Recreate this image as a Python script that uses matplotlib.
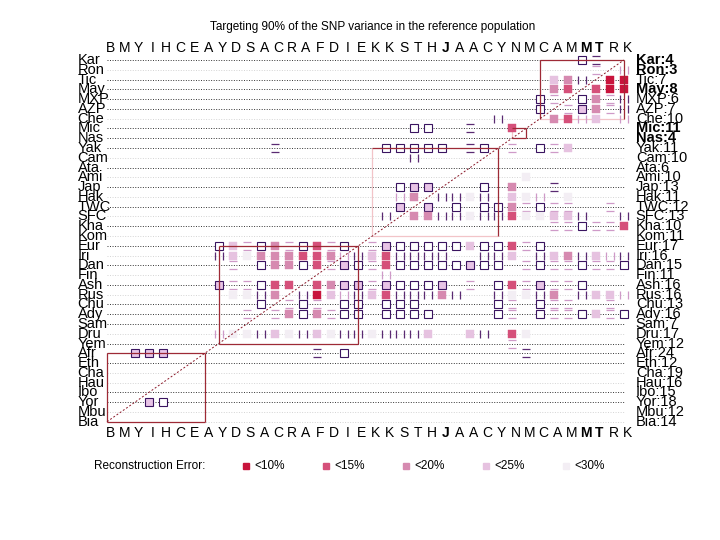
import matplotlib
matplotlib.use("Agg")
import matplotlib.pyplot as plt
from matplotlib.path import Path
from matplotlib.lines import Line2D

plt.rcParams['font.family'] = ['Liberation Sans', 'DejaVu Sans']

# populations, top to bottom
rows = ["Kar", "Ron", "Tic", "May", "MXP", "AZP", "Che", "Mic", "Nas", "Yak",
        "Cam", "Ata", "Ami", "Jap", "Hak", "TWC", "SFC", "Kha", "Kom", "Eur",
        "Iri", "Dan", "Fin", "Ash", "Rus", "Chu", "Ady", "Sam", "Dru", "Yem",
        "Afr", "Eth", "Cha", "Hau", "Ibo", "Yor", "Mbu", "Bia"]
counts = [4, 3, 7, 8, 6, 7, 10, 11, 4, 11, 10, 6, 10, 13, 11, 12, 13, 10, 11, 17,
          16, 15, 11, 16, 16, 13, 16, 7, 17, 12, 24, 12, 19, 16, 15, 18, 12, 14]
bold_rows = ["Kar", "Ron", "May", "Mic", "Nas"]
col_labels = list("BMYIHCEAYDSACRAFDIEKKSTHJAACYNMCAMMTRK")
bold_cols = [24, 34, 35]
faint_rows = [1, 6, 10, 12, 14, 16, 18, 20, 22, 24, 28, 32, 33, 36, 37]

# clusters given as (first column, last column)
clusters = [(0, 7), (8, 18), (19, 28), (29, 30), (31, 37)]
# which box edges are drawn light
light_edges = [(), (), ("left", "bottom"), ("left",), ("bottom",)]

levels = ["<10%", "<15%", "<20%", "<25%", "<30%"]
level_colors = ["#c8143c", "#d5507a", "#d68ab0", "#e6c2e0", "#f3eef4"]

# cell codes: 1-5 filled level, o hollow, p hollow pink, I/= dark bars, i/- light bars
cells = [
    {34: 'o', 35: '='},
    {35: '-', 37: 'i'},
    {32: '4', 33: '3', 34: 'I', 36: '1', 37: '1'},
    {32: '3', 33: '2', 35: '2', 36: '1', 37: '1'},
    {31: 'o', 32: '-', 34: 'o', 35: '3', 36: '-', 37: 'I'},
    {31: 'o', 33: '-', 34: 'p', 35: '3', 36: '-', 37: 'I'},
    {28: 'I', 32: '3', 33: '2', 34: 'i', 35: '4', 37: 'i'},
    {22: 'o', 23: 'o', 26: '=', 29: '2'},
    {},
    {12: '=', 20: 'o', 21: 'o', 22: 'o', 23: 'o', 24: 'o', 26: '=', 27: 'o',
     29: '-', 31: 'o', 32: '-', 33: '4'},
    {22: 'I'},
    {},
    {30: '5'},
    {21: 'o', 22: 'p', 23: 'p', 27: 'o', 29: '3', 32: '='},
    {21: 'i', 22: '3', 24: 'I', 25: 'I', 26: '5', 27: 'I', 29: '4', 30: '5',
     31: 'i', 33: '5'},
    {21: 'p', 23: 'p', 25: 'o', 27: 'o', 28: 'o', 29: '3', 30: '-', 31: 'o',
     32: '-', 33: '-', 36: '-'},
    {20: 'I', 22: '3', 23: '3', 24: 'I', 25: 'I', 26: '5', 27: 'I', 28: 'I',
     29: '2', 30: '5', 31: '5', 32: '4', 33: '4', 34: 'I', 37: 'I'},
    {32: '-', 33: '-', 34: 'o', 35: '-', 36: '-', 37: '2'},
    {},
    {8: 'o', 9: '4', 10: '-', 11: 'o', 12: '3', 13: '-', 14: 'o', 15: '2',
     16: '-', 17: 'o', 19: '-', 20: 'p', 21: 'o', 22: 'o', 23: 'o', 24: 'o',
     25: 'o', 26: '4', 27: 'o', 28: 'o', 29: '2', 30: '-', 31: 'o'},
    {8: 'I', 9: '4', 10: '5', 11: '3', 12: '3', 13: '3', 14: '2', 15: '2',
     16: '3', 17: 'i', 18: 'I', 19: '4', 20: '2', 21: 'I', 22: 'I', 23: 'I',
     24: 'I', 27: 'I', 28: 'I', 29: '4', 31: 'I', 32: '4', 33: '3', 34: 'I',
     35: '4', 36: 'i', 37: 'I'},
    {9: '-', 11: 'o', 12: '3', 13: '3', 14: 'o', 15: '2', 16: '-', 17: 'p',
     18: 'o', 19: '-', 20: '2', 21: 'o', 22: 'o', 23: 'o', 24: 'o', 25: 'o',
     26: 'p', 27: 'o', 28: 'o', 30: '-', 31: 'o', 32: '-', 33: '-', 34: 'o',
     35: '-', 36: '-', 37: 'o'},
    {20: 'i'},
    {8: 'p', 9: '-', 10: '-', 11: 'o', 12: '2', 13: '2', 15: '2', 16: '3',
     17: 'p', 18: 'p', 19: '-', 20: 'p', 21: 'o', 22: 'o', 23: 'o', 24: 'p',
     26: '-', 28: 'o', 29: '2', 30: '-', 31: 'p', 32: '-', 33: '-', 34: 'o'},
    {9: '5', 10: '5', 11: 'I', 12: '3', 14: 'I', 15: '1', 16: '4', 17: 'i',
     18: 'I', 19: '4', 20: '2', 21: 'I', 22: 'I', 23: 'I', 24: '3', 25: 'I',
     28: 'I', 29: '5', 30: '5', 31: 'I', 32: '3', 34: 'I', 35: '4', 36: '4',
     37: 'i'},
    {11: 'o', 13: '-', 14: 'o', 15: '-', 17: 'o', 18: 'o', 20: 'o', 21: 'o',
     22: 'o', 28: 'o', 29: '-', 31: 'o', 32: '-', 33: '-', 36: '-'},
    {10: '-', 12: '-', 13: '3', 14: 'o', 15: '3', 16: '-', 17: 'o', 18: 'o',
     20: 'o', 21: 'o', 22: 'o', 23: 'o', 28: 'o', 29: '-', 31: 'o', 32: '-',
     33: '-', 34: 'o', 35: '4', 36: '-', 37: 'o'},
    {},
    {8: 'i', 9: '5', 10: '5', 11: 'I', 12: '4', 13: '5', 14: 'I', 15: '4',
     16: '5', 17: 'I', 18: 'I', 19: '5', 20: 'I', 21: 'I', 22: 'I', 23: '4',
     26: '4', 27: 'I', 29: '2', 30: '5'},
    {29: '-'},
    {2: 'p', 3: 'p', 4: 'p', 15: '=', 17: 'o', 30: '='},
    {}, {}, {}, {},
    {3: 'p', 4: 'o'},
    {}, {},
]

vbars = Path([(-1, -1), (-1, 1), (1, -1), (1, 1)],
             [Path.MOVETO, Path.LINETO, Path.MOVETO, Path.LINETO])
hbars = Path([(-1, -1), (1, -1), (-1, 1), (1, 1)],
             [Path.MOVETO, Path.LINETO, Path.MOVETO, Path.LINETO])

edge_dark = "#3a1460"
bar_dark = "#5a2a72"
bar_light = "#cf9ac8"
ms = 5.2
styles = {
    'o': dict(marker='s', ms=ms, mfc='white', mec=edge_dark, mew=0.8),
    'p': dict(marker='s', ms=ms, mfc='#e8c4e6', mec=edge_dark, mew=0.8),
    'I': dict(marker=vbars, ms=ms, mec=bar_dark, mew=0.9),
    'i': dict(marker=vbars, ms=ms, mec=bar_light, mew=0.9),
    '=': dict(marker=hbars, ms=ms, mec=bar_dark, mew=0.9),
    '-': dict(marker=hbars, ms=ms, mec=bar_light, mew=0.9),
}
for k, c in enumerate(level_colors):
    styles[str(k + 1)] = dict(marker='s', ms=ms, mfc=c, mec=c, mew=0.3)

box_dark = "#9e2a36"
box_light = "#f2c4c8"

fig = plt.figure(figsize=(7.2, 5.4), dpi=100)
cw, ch = 13.97, 9.776
left_px, top_px = 107 - cw / 2, 60 - ch / 2
ax = fig.add_axes([left_px / 720, 1 - (top_px + 38 * ch) / 540,
                   38 * cw / 720, 38 * ch / 540])
ax.set_xlim(-0.5, 37.5)
ax.set_ylim(37.5, -0.5)
ax.axis('off')

n = len(rows)
for i in range(n):
    col = "#d4d4d4" if i in faint_rows else "#333333"
    ax.hlines(i, 0, n - 1, color=col, lw=0.7, linestyles=(0, (1, 1.6)), zorder=1)

for code, st in styles.items():
    xs, ys = [], []
    for i, row in enumerate(cells):
        for j, c in row.items():
            if c == code:
                xs.append(j)
                ys.append(i)
    if xs:
        ax.plot(xs, ys, linestyle='none', zorder=3, **st)

# cluster boxes and diagonal
for (c0, c1), light in zip(clusters, light_edges):
    r0, r1 = n - 1 - c1, n - 1 - c0
    edges = {"top": ([c0, c1], [r0, r0]), "right": ([c1, c1], [r0, r1]),
             "bottom": ([c0, c1], [r1, r1]), "left": ([c0, c0], [r0, r1])}
    for name, (ex, ey) in edges.items():
        col = box_light if name in light else box_dark
        ax.plot(ex, ey, color=col, lw=0.9, zorder=4 if name not in light else 2,
                solid_capstyle='butt')
ax.plot([0, n - 1], [n - 1, 0], color="#8b1a2a", lw=0.7, ls=(0, (2, 2)), zorder=4)

for i, name in enumerate(rows):
    w = 'bold' if name in bold_rows else 'normal'
    ax.text(-2.1, i, name, ha='left', va='center', fontsize=10.5)
    ax.text(37.85, i, f"{name}:{counts[i]}", ha='left', va='center',
            fontsize=10.5, fontweight=w)
for j, lab in enumerate(col_labels):
    w = 'bold' if j in bold_cols else 'normal'
    ax.text(j + 0.25, -1.25, lab, ha='center', va='center', fontsize=10, fontweight=w)
    ax.text(j + 0.25, 38.2, lab, ha='center', va='center', fontsize=10, fontweight=w)

fig.text(0.517, 0.95, "Targeting 90% of the SNP variance in the reference population",
         ha='center', va='center', fontsize=8.5)

# legend row
ly = 1 - 466 / 540
fig.text(94 / 720, ly, "Reconstruction Error:", ha='left', va='center', fontsize=8.5)
for k, (lab, c) in enumerate(zip(levels, level_colors)):
    x0 = (246 + 80 * k) / 720
    fig.add_artist(Line2D([x0], [ly], transform=fig.transFigure, marker='s',
                          ms=5, mfc=c, mec=c, linestyle='none'))
    fig.text(x0 + 8 / 720, ly, lab, ha='left', va='center', fontsize=8.5)

fig.savefig("out.png", dpi=100)
